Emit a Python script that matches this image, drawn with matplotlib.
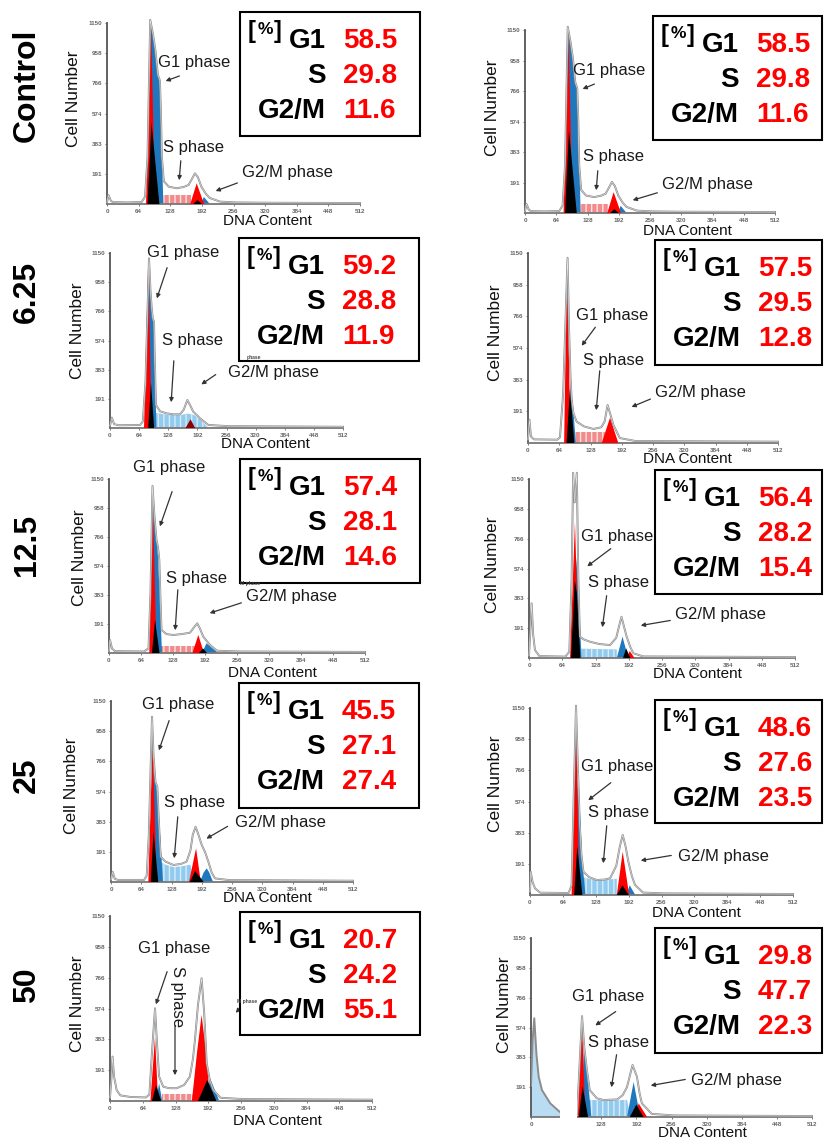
import matplotlib.pyplot as plt
from matplotlib.patches import Rectangle, FancyArrowPatch

plt.rcParams['font.family'] = ['Liberation Sans', 'DejaVu Sans']

W, H = 825, 1140

# panel order: row by row, left then right
row_labels = ["Control", "6.25", "12.5", "25", "50"]
pct_g1 = [58.5, 58.5, 59.2, 57.5, 57.4, 56.4, 45.5, 48.6, 20.7, 29.8]
pct_s = [29.8, 29.8, 28.8, 29.5, 28.1, 28.2, 27.1, 27.6, 24.2, 47.7]
pct_g2m = [11.6, 11.6, 11.9, 12.8, 14.6, 15.4, 27.4, 23.5, 55.1, 22.3]

x_ticks = [0, 64, 128, 192, 256, 320, 384, 448, 512]
y_ticks = [191, 383, 574, 766, 958, 1150]

# histogram outlines (DNA content, cell number)
outline = [
    [(0, 10), (3, 57), (8, 20), (12, 12), (40, 10), (70, 12), (77, 46), (82, 300), (87.5, 1170), (93, 1080),
     (98, 975), (103, 820), (107, 785), (109, 600), (111, 300), (115, 145), (125, 110), (141, 100), (155, 108),
     (165, 121), (172, 160), (178, 195), (184, 170), (191, 110), (200, 65), (208, 38), (229, 15), (260, 10),
     (320, 8), (512, 6)],
    [(0, 10), (3, 57), (8, 20), (12, 12), (40, 10), (70, 12), (77, 46), (82, 300), (87.5, 1170), (93, 1080),
     (98, 975), (103, 820), (107, 785), (109, 600), (111, 300), (115, 145), (125, 110), (141, 100), (155, 108),
     (165, 121), (172, 160), (178, 195), (184, 170), (191, 110), (200, 65), (208, 38), (229, 15), (260, 10),
     (320, 8), (512, 6)],
    [(0, 15), (4, 68), (9, 25), (20, 18), (66, 20), (72, 42), (78, 300), (85.7, 1115), (89, 900), (91.6, 789),
     (94, 720), (96.7, 699), (98, 500), (101, 151), (110, 110), (124.6, 96), (140, 90), (153.8, 90), (162, 120),
     (170, 184), (176, 150), (183, 107), (197.8, 64), (216, 20), (260, 12), (512, 8)],
    [(0, 20), (3, 141), (6, 40), (12, 22), (60, 20), (65.5, 35), (72, 300), (81, 1121), (84, 700), (87, 400),
     (89.5, 260), (93, 180), (99.7, 129), (115, 100), (134, 85), (150, 95), (157, 130), (163, 230), (169, 170),
     (175, 109), (188, 30), (220, 12), (512, 8)],
    [(0, 12), (2, 86), (6, 30), (12, 12), (70, 10), (79, 30), (83, 400), (87, 1104), (91, 900), (95, 747),
     (98, 700), (100.6, 615), (103, 350), (105, 152), (115, 125), (128.6, 119), (145, 125), (162, 134),
     (170, 170), (176.6, 196), (182, 160), (188.6, 108), (202, 53), (216, 15), (260, 10), (512, 7)],
    [(0, 15), (3, 200), (5, 351), (8, 150), (11.5, 51), (20, 12), (70, 9), (77.6, 40), (82, 500), (85, 1190),
     (88, 1000), (92, 1190), (95, 500), (98, 137), (105, 120), (117, 105), (135, 90), (156, 83), (168, 130),
     (173, 200), (178, 265), (183, 200), (188, 137), (195, 70), (201, 30), (220, 10), (512, 6)],
    [(0, 15), (3.5, 65), (8, 20), (15, 13), (70, 13), (75.5, 40), (80, 300), (86.8, 1050), (90, 800), (94, 637),
     (98, 605), (101, 400), (105, 161), (115, 130), (132, 108), (148, 115), (160, 129), (168, 200), (173, 300),
     (179, 351), (185, 300), (192, 235), (199, 190), (206, 129), (213, 60), (220, 23), (250, 12), (512, 8)],
    [(0, 20), (1.4, 143), (5, 80), (9.7, 41), (20, 14), (75, 12), (81, 60), (85, 600), (89.6, 1164), (93, 800),
     (97, 430), (100, 250), (104, 143), (115, 110), (130, 92), (145, 95), (156, 103), (168, 180), (175, 300),
     (180.5, 369), (186, 300), (191.5, 205), (198, 120), (204.4, 62), (220, 15), (260, 10), (512, 6)],
    [(0, 20), (3, 150), (5, 276), (8, 150), (13, 68), (20, 35), (40, 25), (70, 22), (77, 40), (82, 300),
     (88, 576), (92, 350), (96, 151), (104, 89), (115, 80), (130, 79), (145, 100), (156, 151), (162, 260),
     (166, 379), (172, 600), (179, 763), (184, 550), (189, 234), (195, 130), (202, 68), (216, 20), (260, 12),
     (512, 8)],
    [(84, 20), (88, 300), (93, 648), (97, 450), (102, 300), (107, 173), (120, 120), (132.5, 109), (157, 113),
     (167, 140), (175, 193), (185, 334), (193, 259), (198, 150), (202, 88), (220, 20), (260, 10), (512, 6)],
]

# sub-G1 debris (only last panel)
sub_g1 = [[], [], [], [], [], [], [], [], [],
          [(0, 0), (0, 200), (3, 500), (6, 634), (10, 400), (14, 259), (20, 173), (35, 88), (52, 34), (54, 0)]]

g1_red = [
    [(79, 0), (89, 1140), (97.5, 0)],
    [(79, 0), (89, 1140), (97.5, 0)],
    [(74.7, 0), (84, 1104), (91.6, 0)],
    [(74, 0), (80, 1120), (87, 0)],
    [(80.6, 0), (87, 1100), (95, 0)],
    [(79, 0), (88.5, 875), (96, 0)],
    [(79, 0), (88, 896), (96.7, 0)],
    [(81, 0), (89.6, 1150), (96, 0)],
    [(79, 0), (88, 400), (94, 0)],
    [(85, 0), (93, 610), (99, 0)],
]
g1_blue = [
    [(86, 0), (89, 1140), (98, 975), (103, 820), (107, 780), (110, 450), (114, 0)],
    [(86, 0), (89, 1140), (98, 975), (103, 820), (107, 780), (110, 450), (114, 0)],
    [(82, 0), (86, 1050), (91.6, 789), (96.7, 680), (99, 350), (102, 0)],
    [(82, 0), (86, 350), (92, 230), (98, 0)],
    [(85, 0), (89, 1000), (95, 750), (98, 640), (101, 400), (106, 0)],
    [(85, 0), (91, 645), (97, 300), (101, 0)],
    [(86, 0), (90, 800), (95, 616), (98, 560), (103, 350), (110, 0)],
    [(88, 0), (92, 700), (97, 530), (102, 200), (108, 0)],
    [(90, 0), (96, 110), (102, 0)],
    [(93, 0), (96, 450), (101, 310), (106, 150), (110, 0)],
]
g1_black = [
    [(82, 0), (90, 520), (106, 0)],
    [(82, 0), (90, 520), (106, 0)],
    [(84, 0), (90, 300), (97, 0)],
    [(79, 0), (86, 330), (95, 0)],
    [(86, 0), (92, 220), (101, 0)],
    [(81, 0), (88, 500), (92, 420), (99, 0)],
    [(84, 0), (90, 320), (100, 0)],
    [(86, 0), (92, 300), (102, 0)],
    [(82, 0), (90, 100), (100, 0)],
    [(87, 0), (94, 200), (104, 0)],
]
s_fill = [
    [(103, 0), (103, 57), (171, 57), (171, 0)],
    [(103, 0), (103, 57), (171, 57), (171, 0)],
    [(97, 0), (97, 100), (125, 88), (155, 85), (170, 95), (185, 85), (200, 50), (216, 0)],
    [(93, 0), (93, 64), (158, 64), (158, 0)],
    [(105, 0), (105, 45), (172, 45), (172, 0)],
    [(99, 0), (99, 60), (169, 55), (169, 0)],
    [(104, 0), (104, 130), (115, 110), (132, 95), (150, 100), (168, 110), (175, 0)],
    [(102, 0), (102, 110), (115, 100), (130, 92), (150, 95), (169, 100), (169, 0)],
    [(101, 0), (101, 43), (163, 43), (163, 0)],
    [(105, 0), (105, 110), (132, 107), (157, 107), (175, 110), (181, 0)],
]
g2_red = [
    [(168.5, 0), (181.5, 131), (196.5, 0)],
    [(168.5, 0), (181.5, 131), (196.5, 0)],
    [(166, 0), (177, 57), (187, 0)],
    [(151, 0), (168, 153), (185, 0)],
    [(167, 0), (178.6, 119), (190, 0)],
    [(188, 0), (194, 45), (203, 0)],
    [(165, 0), (180, 214), (190, 0)],
    [(169, 0), (180.5, 266), (193, 0)],
    [(160, 0), (170, 300), (179, 535), (186, 350), (192, 141), (196, 0)],
    [(191, 0), (196, 88), (211.5, 0)],
]
g2_blue = [
    [(190, 0), (196, 45), (208, 0)],
    [(190, 0), (196, 45), (208, 0)],
    [],
    [],
    [(186, 0), (195, 64), (218, 0)],
    [(169, 0), (180, 137), (191, 0)],
    [(188, 0), (196, 60), (202.5, 87), (208, 60), (216, 0)],
    [(188, 0), (194, 60), (205, 0)],
    [(188, 0), (195.6, 141), (213.6, 0)],
    [(175, 0), (187, 225), (199, 0)],
]
g2_black = [
    [(175, 0), (183, 25), (192, 0)],
    [(175, 0), (183, 25), (192, 0)],
    [],
    [],
    [(180, 0), (188, 30), (196, 0)],
    [(181, 0), (187, 62), (195, 0)],
    [(167, 0), (178, 70), (196, 0)],
    [(169, 0), (180, 60), (192, 0)],
    [(172, 0), (190, 130), (208, 0)],
    [(180, 0), (192, 80), (205, 0)],
]

# ---- layout (pixels) ----
axes_px = [(107, 360, 23, 204), (525, 775, 30, 213), (110, 343, 253, 428), (528, 778, 253, 443),
           (109, 365, 479, 653), (529, 795, 479, 658), (111, 353, 701, 882), (530, 793, 708, 895),
           (110, 372, 916, 1101), (531, 812, 938, 1117)]
box_px = [(240, 12, 420, 136), (653, 16, 822, 140), (239, 238, 419, 361), (655, 240, 822, 365),
          (240, 459, 420, 583), (655, 470, 822, 594), (239, 683, 419, 808), (655, 700, 822, 823),
          (240, 912, 420, 1035), (655, 928, 822, 1053)]
cell_px = [(73, 99), (493, 108), (77, 331), (495, 333), (79, 558), (493, 565), (72, 786), (495, 784),
           (77, 1004), (504, 1005)]
dna_px = [(267, 221), (687, 231), (265, 444), (687, 459), (272, 673), (697, 674), (267, 898), (696, 913),
          (277, 1121), (702, 1133)]
row_label_y = [85, 292, 545, 775, 985]

ann_text = [
    [("G1 phase", 158, 62), ("S phase", 163, 147), ("G2/M phase", 242, 173)],
    [("G1 phase", 573, 70), ("S phase", 583, 157), ("G2/M phase", 662, 185)],
    [("G1 phase", 147, 253), ("S phase", 162, 341), ("G2/M phase", 228, 372)],
    [("G1 phase", 576, 315), ("S phase", 583, 361), ("G2/M phase", 655, 392)],
    [("G1 phase", 133, 467), ("S phase", 166, 578), ("G2/M phase", 246, 597)],
    [("G1 phase", 581, 537), ("S phase", 588, 583), ("G2/M phase", 675, 615)],
    [("G1 phase", 142, 705), ("S phase", 164, 803), ("G2/M phase", 235, 823)],
    [("G1 phase", 581, 766), ("S phase", 588, 813), ("G2/M phase", 678, 856)],
    [("G1 phase", 138, 948)],
    [("G1 phase", 572, 997), ("S phase", 588, 1043), ("G2/M phase", 691, 1080)],
]
ann_arrow = [
    [(182, 75, 163, 82), (181, 158, 179, 183), (240, 182, 213, 192)],
    [(597, 83, 580, 90), (598, 168, 596, 193), (660, 192, 630, 201)],
    [(168, 265, 156, 301), (174, 358, 171, 405), (218, 373, 199, 386)],
    [(597, 325, 580, 348), (600, 368, 596, 413), (653, 398, 629, 408)],
    [(173, 489, 159, 529), (178, 587, 175, 633), (244, 602, 207, 614)],
    [(613, 547, 585, 568), (607, 593, 602, 630), (673, 620, 638, 626)],
    [(170, 718, 158, 753), (178, 814, 174, 861), (230, 825, 204, 840)],
    [(613, 781, 586, 802), (607, 823, 603, 866), (674, 855, 638, 861)],
    [(168, 969, 155, 1007), (175, 1023, 175, 1078), (240, 1008, 234, 1015)],
    [(618, 1010, 593, 1027), (617, 1052, 611, 1090), (688, 1079, 648, 1086)],
]
tiny_text = [("phase", 247, 358), ("M phase", 240, 583), ("M phase", 237, 1001)]

s_colors = ['#f28c8c', '#f28c8c', '#92cbee', '#f28c8c', '#f28c8c', '#92cbee', '#92cbee', '#92cbee',
            '#f28c8c', '#92cbee']
g2_red_colors = ['red', 'red', '#8b0000', 'red', 'red', 'red', 'red', 'red', 'red', 'red']


def fx(px):
    return px / W


def fy(py):
    return 1 - py / H


def poly(ax, pts, color, z, **kw):
    if not pts:
        return
    xs = [p[0] for p in pts]
    ys = [p[1] for p in pts]
    ax.fill(xs, ys, color=color, lw=0, zorder=z, **kw)


fig = plt.figure(figsize=(8.25, 11.4), dpi=100, facecolor='w')

for i in range(10):
    x0, x1, top, base = axes_px[i]
    ax = fig.add_axes([fx(x0), fy(base), (x1 - x0) / W, (base - top) / H])
    ax.set_xlim(0, 512)
    ax.set_ylim(0, 1150)

    poly(ax, sub_g1[i], '#b9dcf3', 1)
    poly(ax, s_fill[i], s_colors[i], 1, edgecolor='#fbe3e3' if s_colors[i] == '#f28c8c' else '#d6ecfa',
         hatch='|||')
    poly(ax, g1_blue[i], '#1f78bd', 2)
    poly(ax, g1_red[i], '#ff0000', 3)
    poly(ax, g1_black[i], '#000000', 4)
    poly(ax, g2_blue[i], '#1f78bd', 2)
    poly(ax, g2_red[i], g2_red_colors[i], 3)
    poly(ax, g2_black[i], '#000000', 4)

    ox = [p[0] for p in outline[i]]
    oy = [p[1] for p in outline[i]]
    ax.plot(ox, oy, color='#8c8c8c', lw=1.4, zorder=5, clip_on=False)
    ax.plot(ox, oy, color='#e8e8e8', lw=0.4, zorder=5, clip_on=False)
    if sub_g1[i]:
        sx = [p[0] for p in sub_g1[i][1:-1]]
        sy = [p[1] for p in sub_g1[i][1:-1]]
        ax.plot(sx, sy, color='#8c8c8c', lw=1.4, zorder=5)

    for side in ['top', 'right']:
        ax.spines[side].set_visible(False)
    ax.spines['left'].set_color('#555555')
    ax.spines['left'].set_linewidth(1.3)
    ax.spines['bottom'].set_color('#777777')
    ax.spines['bottom'].set_linewidth(1.3)
    ax.set_xticks(x_ticks)
    ax.set_xticklabels([str(t) for t in x_ticks])
    ax.set_yticks(y_ticks)
    ax.set_yticklabels([str(t) for t in y_ticks])
    ax.tick_params(labelsize=4.5, length=1.5, width=0.6, pad=2, colors='#666666')
    for lab in ax.get_xticklabels() + ax.get_yticklabels():
        lab.set_fontweight('bold')
    ax.patch.set_alpha(0)

    if i == 9:
        # broken x axis in the last panel
        ax.add_patch(Rectangle((53, -140), 30, 700, fc='white', ec='none', zorder=6, clip_on=False))

    cx, cy = cell_px[i]
    fig.text(fx(cx), fy(cy), "Cell Number", rotation=90, ha='center', va='center', fontsize=12.5,
             color='#111111')
    dx, dy = dna_px[i]
    fig.text(fx(dx), fy(dy), "DNA Content", ha='center', va='center', fontsize=11, color='#111111')

    for s, tx, ty in ann_text[i]:
        fig.text(fx(tx), fy(ty), s, ha='left', va='center', fontsize=12, color='#1a1a1a', zorder=2)
    for (ax1, ay1, ax2, ay2) in ann_arrow[i]:
        fig.add_artist(FancyArrowPatch((fx(ax1), fy(ay1)), (fx(ax2), fy(ay2)), transform=fig.transFigure,
                                       arrowstyle='-|>', mutation_scale=6, lw=0.9, color='#333333',
                                       zorder=2))

    bl, bt, br, bb = box_px[i]
    fig.add_artist(Rectangle((fx(bl), fy(bb)), (br - bl) / W, (bb - bt) / H, transform=fig.transFigure,
                             fc='white', ec='black', lw=1.5, zorder=4))
    fig.text(fx(bl + 8), fy(bt + 26), "[", ha='left', va='baseline', fontsize=17, fontweight='bold',
             zorder=5)
    fig.text(fx(bl + 25), fy(bt + 22), "%", ha='center', va='baseline', fontsize=12.5, fontweight='bold',
             zorder=5)
    fig.text(fx(bl + 42), fy(bt + 26), "]", ha='right', va='baseline', fontsize=17, fontweight='bold',
             zorder=5)
    rows = [("G1", pct_g1[i]), ("S", pct_s[i]), ("G2/M", pct_g2m[i])]
    for k, (name, val) in enumerate(rows):
        yb = bt + 36 + 35 * k
        fig.text(fx(bl + 86), fy(yb), name, ha='right', va='baseline', fontsize=20, fontweight='bold',
                 color='black', zorder=5)
        fig.text(fx(bl + 103), fy(yb), "%.1f" % val, ha='left', va='baseline', fontsize=20,
                 fontweight='bold', color='#ff0000', zorder=5)

# rotated S phase label in the 50 (left) panel
fig.text(fx(177), fy(997), "S phase", rotation=270, ha='center', va='center', fontsize=12, color='#1a1a1a')
for s, tx, ty in tiny_text:
    fig.text(fx(tx), fy(ty), s, ha='left', va='center', fontsize=3.6, color='#444444', fontweight='bold',
             zorder=6)

for r in range(5):
    fig.text(fx(27), fy(row_label_y[r]), row_labels[r], rotation=90, ha='center', va='center',
             fontsize=23, fontweight='bold')

plt.savefig("out.png", dpi=100)
